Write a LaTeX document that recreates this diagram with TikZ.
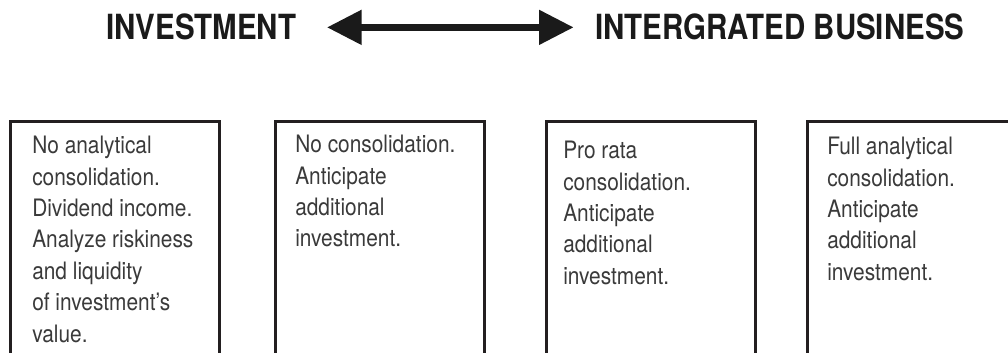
\documentclass[tikz,border=0pt]{standalone}
\usepackage{fontspec}
\usetikzlibrary{arrows.meta}
\newfontfamily\bodyfont[FakeStretch=0.87]{TeX Gyre Heros}
\newfontfamily\headfont[FakeStretch=0.85]{TeX Gyre Heros}
\definecolor{inkgray}{HTML}{3A3A3A}
\definecolor{framegray}{HTML}{231F20}
\definecolor{arrowblack}{HTML}{1A1A1A}

\begin{document}
\begin{tikzpicture}[x=0.75pt,y=-0.75pt,
    heading/.style={inner sep=0pt, anchor=base west, text=arrowblack, font=\headfont\bfseries\fontsize{26}{30}\selectfont},
    bigarrow/.style={draw=arrowblack, fill=arrowblack, line width=5.25pt, {Triangle[length=26pt,width=25pt]}-{Triangle[length=26pt,width=25pt]}},
    frame/.style={draw=framegray, line width=2.25pt},
    notes/.style={inner sep=0pt, anchor=north west, align=left, text=inkgray, font=\bodyfont\fontsize{18}{23.6}\selectfont}]
  \useasboundingbox (0,0) rectangle (1008,353);
  \clip (0,0) rectangle (1008,353);

  % headings and the two-way arrow
  \node[heading] (inv) at (106,40) {INVESTMENT};
  \node[heading] (biz) at (595,40) {INTERGRATED BUSINESS};
  \draw[bigarrow, shorten <=23pt, shorten >=16pt] (inv) -- (biz);

  % columns
  \draw[frame] (10,122) rectangle (219,380);
  \draw[frame] (275,122) rectangle (484,380);
  \draw[frame] (546,122) rectangle (755,380);
  \draw[frame] (807,122) rectangle (1016,380);

  \node[notes] (none) at (32,135.8) {No analytical\\consolidation.\\Dividend income.\\Analyze riskiness\\and liquidity\\of investment’s\\value.};
  \node[notes] (nocons) at (295,134.8) {No consolidation.\\Anticipate\\additional\\investment.};
  \node[notes] (prorata) at (563,140.8) {Pro rata\\consolidation.\\Anticipate\\additional\\investment.};
  \node[notes] (full) at (827,136.8) {Full analytical\\consolidation.\\Anticipate\\additional\\investment.};
\end{tikzpicture}
\end{document}
